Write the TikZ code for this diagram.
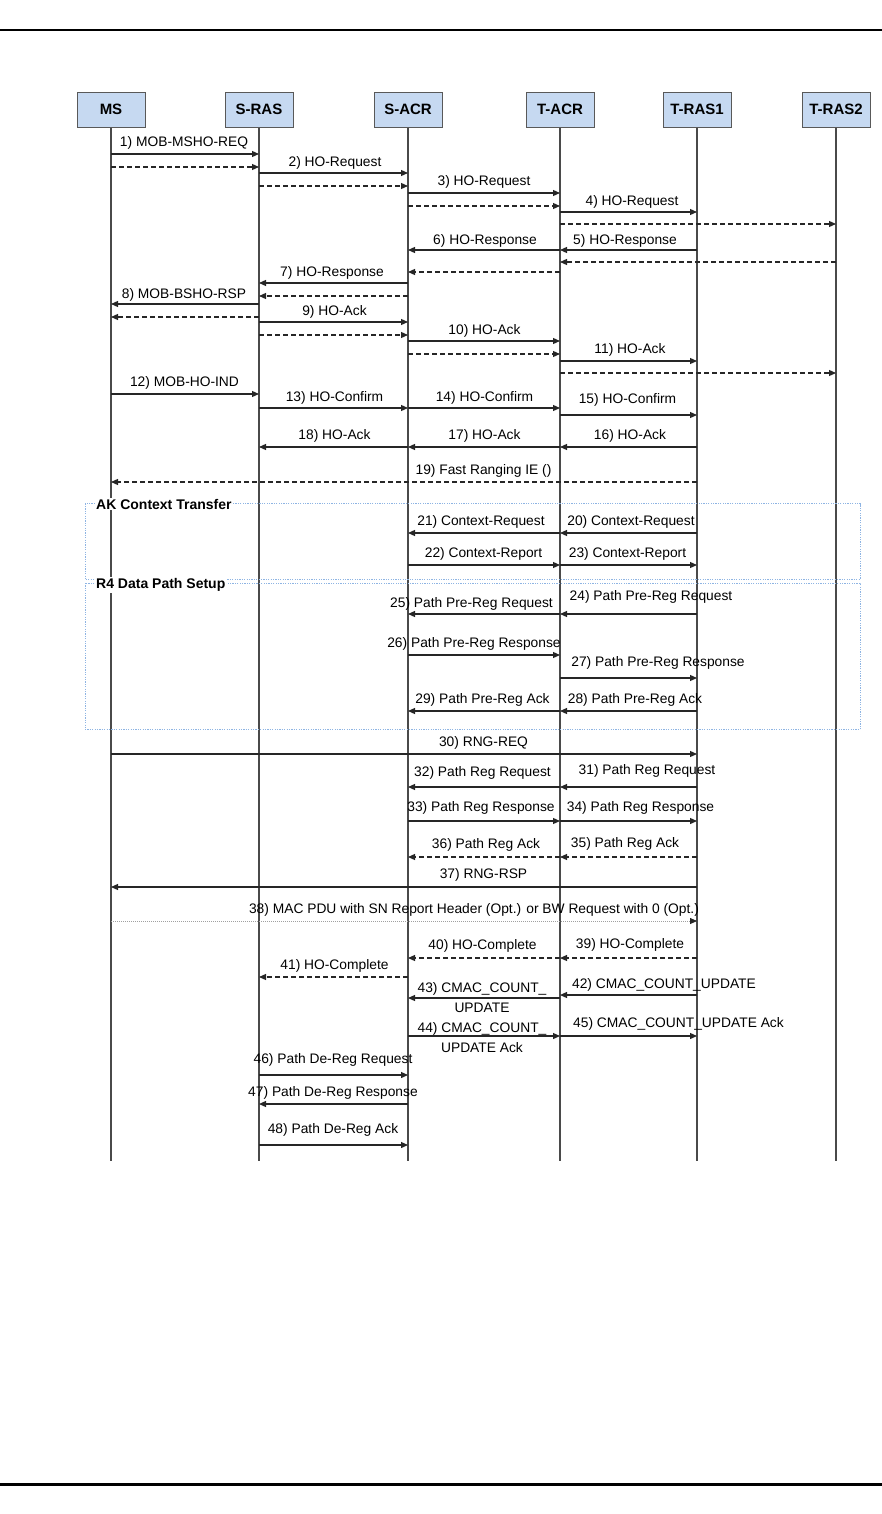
\documentclass[tikz,border=0pt]{standalone}
\usepackage{fontspec}
\setmainfont{Liberation Sans}
\usetikzlibrary{arrows.meta}
\definecolor{boxfill}{HTML}{C6D9F1}
\definecolor{boxline}{HTML}{595959}
\definecolor{lifec}{HTML}{4A4A4A}
\definecolor{arrc}{HTML}{262626}
\definecolor{groupc}{HTML}{8EB4E3}
\definecolor{dotc}{HTML}{A0A0A0}
\tikzset{
  actor/.style={draw=boxline, fill=boxfill, line width=0.8pt, minimum width=68pt, minimum height=35pt, inner sep=0pt, font=\fontsize{15}{17}\selectfont\bfseries},
  life/.style={draw=lifec, line width=1.5pt},
  msg/.style={draw=arrc, line width=1.2pt, -{Triangle[length=7pt,width=6pt,color=arrc]}},
  dmsg/.style={msg, dash pattern=on 5pt off 3pt},
  omsg/.style={msg, draw=dotc, line width=0.8pt, dash pattern=on 1pt off 1pt},
  lbl/.style={font=\fontsize{13.8}{16.5}\selectfont, inner sep=0pt, text=black},
  group/.style={draw=groupc, line width=1pt, dash pattern=on 1.2pt off 1.2pt},
  glbl/.style={font=\fontsize{14}{16}\selectfont\bfseries, fill=white, inner sep=1pt, anchor=west},
  hrule/.style={line width=2.5pt, draw=black},
}
\newcommand\Msg[8]{% style, from, to, y, name, label, lx, ly
  \draw[#1] (#2 |- 0,#4) -- (#3 |- 0,#4);
  \node[lbl] (#5) at (#7,#8) {#6};}
\newcommand\Ret[4]{% style, from, to, y
  \draw[#1] (#2 |- 0,#4) -- (#3 |- 0,#4);}
\begin{document}
\begin{tikzpicture}[x=1pt,y=-1pt]
\useasboundingbox (0,0) rectangle (882,1514);
\draw[hrule] (0,30) -- (882,30);
\draw[hrule, line width=3pt] (0,1484) -- (882,1484);
% actors
\node[actor] (ms)    at (111,109.8) {MS};
\node[actor] (sras)  at (259,109.8) {S-RAS};
\node[actor] (sacr)  at (408,109.8) {S-ACR};
\node[actor] (tacr)  at (560,109.8) {T-ACR};
\node[actor] (tras1) at (697,109.8) {T-RAS1};
\node[actor] (tras2) at (836,109.8) {T-RAS2};
% lifelines
\foreach \a in {ms,sras,sacr,tacr,tras1,tras2}{
  \draw[life] (\a.south) -- (\a |- 0,1161) coordinate (\a end);
}
% groups
\draw[group] (85,503.5) rectangle (860,579.5);
\node[glbl] (gak) at (95,504) {AK Context Transfer};
\draw[group] (85,583) rectangle (860,729.5);
\node[glbl] (gr4) at (95,585) {R4 Data Path Setup};
% messages
\Msg{msg}{ms}{sras}{154}{l1}{1) MOB-MSHO-REQ}{184}{143}
\Ret{dmsg}{ms}{sras}{167}
\Msg{msg}{sras}{sacr}{173}{l2}{2) HO-Request}{335}{162.5}
\Ret{dmsg}{sras}{sacr}{186}
\Msg{msg}{sacr}{tacr}{193}{l3}{3) HO-Request}{484}{181.5}
\Ret{dmsg}{sacr}{tacr}{206}
\Msg{msg}{tacr}{tras1}{212}{l4}{4) HO-Request}{632}{201.5}
\Ret{dmsg}{tacr}{tras2}{224}
\Msg{msg}{tras1}{tacr}{250}{l5}{5) HO-Response}{625}{241}
\Msg{msg}{tacr}{sacr}{250}{l6}{6) HO-Response}{485}{241}
\Ret{dmsg}{tras2}{tacr}{262}
\Ret{dmsg}{tacr}{sacr}{272}
\Msg{msg}{sacr}{sras}{283}{l7}{7) HO-Response}{332}{273}
\Ret{dmsg}{sacr}{sras}{296}
\Msg{msg}{sras}{ms}{304}{l8}{8) MOB-BSHO-RSP}{184}{295}
\Ret{dmsg}{sras}{ms}{317}
\Msg{msg}{sras}{sacr}{322}{l9}{9) HO-Ack}{334.5}{311.5}
\Ret{dmsg}{sras}{sacr}{335}
\Msg{msg}{sacr}{tacr}{341}{l10}{10) HO-Ack}{484.5}{331}
\Ret{dmsg}{sacr}{tacr}{354}
\Msg{msg}{tacr}{tras1}{361}{l11}{11) HO-Ack}{630}{349.5}
\Ret{dmsg}{tacr}{tras2}{373}
\Msg{msg}{ms}{sras}{394}{l12}{12) MOB-HO-IND}{184.5}{382.5}
\Msg{msg}{sras}{sacr}{408}{l13}{13) HO-Confirm}{334.5}{397.5}
\Msg{msg}{sacr}{tacr}{408}{l14}{14) HO-Confirm}{484.5}{397.5}
\Msg{msg}{tacr}{tras1}{415}{l15}{15) HO-Confirm}{627.5}{399.5}
\Msg{msg}{tras1}{tacr}{447}{l16}{16) HO-Ack}{630}{435.5}
\Msg{msg}{tacr}{sacr}{447}{l17}{17) HO-Ack}{484.5}{435.5}
\Msg{msg}{sacr}{sras}{447}{l18}{18) HO-Ack}{334.5}{435.5}
\Msg{dmsg}{tras1}{ms}{482}{l19}{19) Fast Ranging IE ()}{483.5}{471}
\Msg{msg}{tras1}{tacr}{533}{l20}{20) Context-Request}{631}{522}
\Msg{msg}{tacr}{sacr}{533}{l21}{21) Context-Request}{481}{522}
\Msg{msg}{sacr}{tacr}{565}{l22}{22) Context-Report}{483.5}{553.5}
\Msg{msg}{tacr}{tras1}{565}{l23}{23) Context-Report}{627.5}{553.5}
\Msg{msg}{tras1}{tacr}{614}{l24}{24) Path Pre-Reg Request}{651}{597}
\Msg{msg}{tacr}{sacr}{614}{l25}{25) Path Pre-Reg Request}{471.5}{603.5}
\Msg{msg}{sacr}{tacr}{655}{l26}{26) Path Pre-Reg Response}{474}{644}
\Msg{msg}{tacr}{tras1}{678}{l27}{27) Path Pre-Reg Response}{658}{663}
\Msg{msg}{tras1}{tacr}{711}{l28}{28) Path Pre-Reg Ack}{635}{699.5}
\Msg{msg}{tacr}{sacr}{711}{l29}{29) Path Pre-Reg Ack}{482.5}{699.5}
\Msg{msg}{ms}{tras1}{754}{l30}{30) RNG-REQ}{483.5}{743}
\Msg{msg}{tras1}{tacr}{787}{l31}{31) Path Reg Request}{647}{771}
\Msg{msg}{tacr}{sacr}{787}{l32}{32) Path Reg Request}{482.5}{773}
\Msg{msg}{sacr}{tacr}{821}{l33}{33) Path Reg Response}{481}{808}
\Msg{msg}{tacr}{tras1}{821}{l34}{34) Path Reg Response}{640.5}{808}
\Msg{dmsg}{tras1}{tacr}{857}{l35}{35) Path Reg Ack}{625}{844}
\Msg{dmsg}{tacr}{sacr}{857}{l36}{36) Path Reg Ack}{486}{844.5}
\Msg{msg}{tras1}{ms}{887}{l37}{37) RNG-RSP}{483.5}{874.5}
\Msg{omsg}{ms}{tras1}{921}{l38}{38) MAC PDU with SN Report Header (Opt.) or BW Request with 0 (Opt.)}{474}{910}
\Msg{dmsg}{tras1}{tacr}{958}{l39}{39) HO-Complete}{630}{945}
\Msg{dmsg}{tacr}{sacr}{958}{l40}{40) HO-Complete}{482.5}{946}
\Msg{dmsg}{sacr}{sras}{977}{l41}{41) HO-Complete}{334.5}{966}
\Msg{msg}{tras1}{tacr}{995}{l42}{42) CMAC\_COUNT\_UPDATE}{664}{985}
\draw[msg] (tacr |- 0,998) -- (sacr |- 0,998);
\node[lbl, align=center] (l43) at (482,998) {43) CMAC\_COUNT\_\\[3.5pt]UPDATE};
\draw[msg] (sacr |- 0,1036) -- (tacr |- 0,1036);
\node[lbl, align=center] (l44) at (482,1037.5) {44) CMAC\_COUNT\_\\[3.5pt]UPDATE Ack};
\Msg{msg}{tacr}{tras1}{1036}{l45}{45) CMAC\_COUNT\_UPDATE Ack}{678.5}{1024}
\Msg{msg}{sras}{sacr}{1075}{l46}{46) Path De-Reg Request}{333}{1060}
\Msg{msg}{sacr}{sras}{1104}{l47}{47) Path De-Reg Response}{333}{1092.5}
\Msg{msg}{sras}{sacr}{1145}{l48}{48) Path De-Reg Ack}{333}{1130}
\end{tikzpicture}
\end{document}
